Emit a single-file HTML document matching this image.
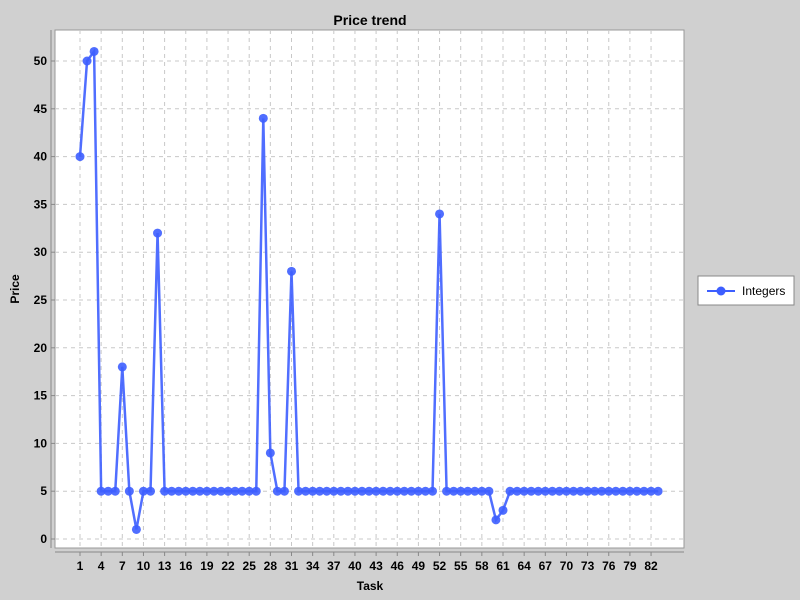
<!DOCTYPE html>
<html><head><meta charset="utf-8"><style>
html,body{margin:0;padding:0;overflow:hidden;width:800px;height:600px;background:#d0d0d0;font-family:"Liberation Sans","DejaVu Sans",sans-serif}
svg{display:block}
</style></head><body>
<svg id="c" width="800" height="600" xmlns="http://www.w3.org/2000/svg">
<rect width="800" height="600" fill="#d0d0d0"/>
<text x="370" y="25" text-anchor="middle" font-size="14" font-weight="bold">Price trend</text>
<rect x="55" y="30" width="629" height="518" fill="#fff" stroke="#999"/>
<g id="grid"></g><g id="axes"></g><g id="series"></g>
<text x="370" y="590" text-anchor="middle" font-size="12" font-weight="bold">Task</text>
<text transform="translate(19,289) rotate(-90)" text-anchor="middle" font-size="12" font-weight="bold">Price</text>
<g>
<rect x="698" y="276" width="96" height="29" fill="#fff" stroke="#888"/>
<line x1="707" y1="291" x2="735" y2="291" stroke="#3d5eff" stroke-width="2"/>
<circle cx="721" cy="291" r="4.5" fill="#3d5eff"/>
<text x="742" y="295" font-size="12">Integers</text>
</g>
</svg>
<script>
const categories=[];for(let i=1;i<=83;i++)categories.push(i);
const values=[40,50,51,5,5,5,18,5,1,5,5,32,5,5,5,5,5,5,5,5,5,5,5,5,5,5,44,9,5,5,28,5,5,5,5,5,5,5,5,5,5,5,5,5,5,5,5,5,5,5,5,34,5,5,5,5,5,5,5,2,3,5,5,5,5,5,5,5,5,5,5,5,5,5,5,5,5,5,5,5,5,5,5];
const yTicks=[0,5,10,15,20,25,30,35,40,45,50];
const NS="http://www.w3.org/2000/svg";
const x=i=>80+i*7.05;
const y=v=>539-v*9.56;
function mk(t,a,p){const e=document.createElementNS(NS,t);for(const k in a)e.setAttribute(k,a[k]);p.appendChild(e);return e;}
const g=document.getElementById('grid'),ax=document.getElementById('axes'),s=document.getElementById('series');
yTicks.forEach(t=>{
 const l=mk('line',{x1:55,x2:684,y1:y(t),y2:y(t),stroke:'#c8c8c8','stroke-dasharray':'4,4'},g);
 
 
 const tx=mk('text',{x:47,y:y(t)+4,'text-anchor':'end','font-size':12,'font-weight':'bold'},ax);
 tx.textContent=t;
 
 
 mk('line',{x1:51,x2:55,y1:y(t),y2:y(t),stroke:'#888'},ax);
});
mk('line',{x1:51,x2:51,y1:30,y2:548,stroke:'#888'},ax);
mk('line',{x1:55,x2:684,y1:552,y2:552,stroke:'#888'},ax);
categories.forEach((c,i)=>{
 if(i%3!==0)return;
 const l=mk('line',{x1:x(i),x2:x(i),y1:30,y2:548,stroke:'#c8c8c8','stroke-dasharray':'4,4'},g);
 
 
 mk('line',{x1:x(i),x2:x(i),y1:552,y2:556,stroke:'#888'},ax);
 const tx=mk('text',{x:x(i),y:570,'text-anchor':'middle','font-size':12,'font-weight':'bold'},ax);
 tx.textContent=c;
 
 
});
const pl=mk('polyline',{points:values.map((v,i)=>x(i)+','+y(v)).join(' '),fill:'none',stroke:'#3d5eff','stroke-width':2.5,'stroke-opacity':0.9},s);


values.forEach((v,i)=>{
 const c=mk('circle',{cx:x(i),cy:y(v),r:4.5,fill:'#3d5eff','fill-opacity':0.9},s);
 
 
});
</script>
</body></html>
